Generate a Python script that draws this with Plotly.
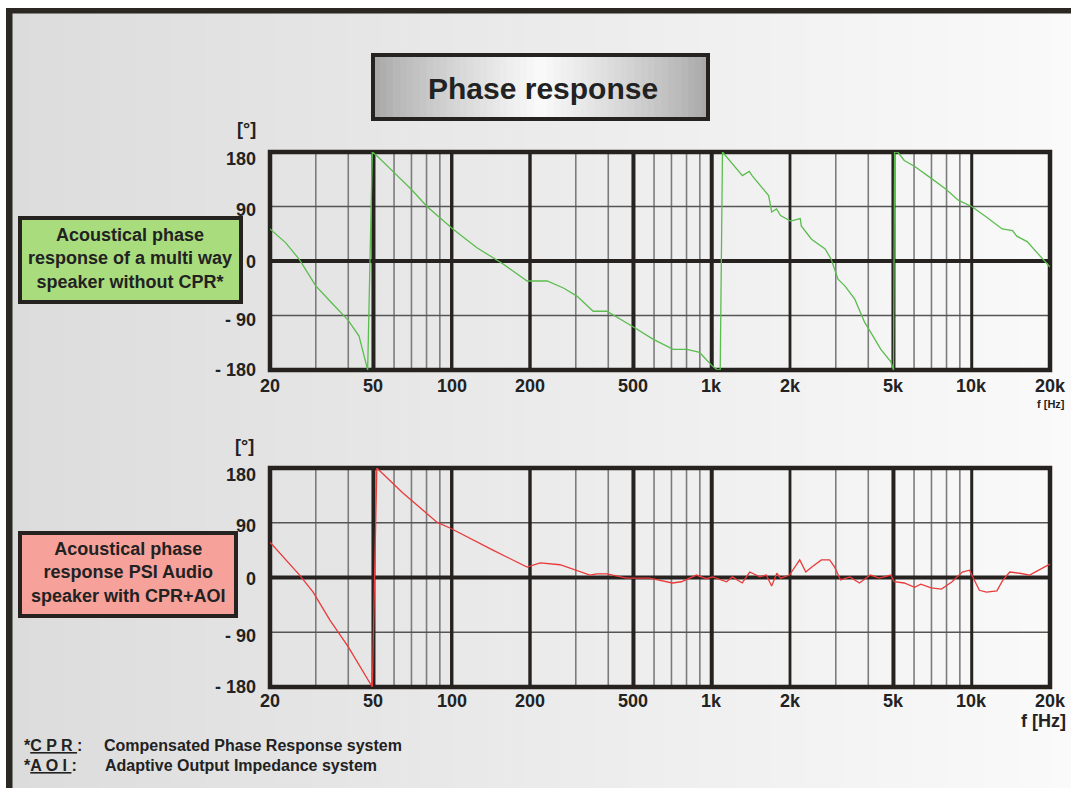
import numpy as np
import plotly.graph_objects as go

# ---------------- data ----------------
green_f = [20, 23, 26, 30, 34, 40, 44, 47.5, 49.5,
           52, 59.4, 70, 80.3, 101, 125, 157.6, 195, 233, 270, 303, 350, 395, 500, 594, 711, 803, 898, 1008, 1054,
           1078, 1100, 1196, 1312, 1394, 1430, 1655, 1700, 1775, 1840, 2010, 2190, 2210, 2420, 2730, 2880, 3060,
           3250, 3550, 3870, 4090, 4470, 4880, 5000,
           5050, 5190, 5500, 6040, 7010, 7940, 8900, 10000, 11350, 13100, 14360, 14900, 16330, 18400, 20000]
green_deg = [53, 30, 2, -41, -66, -98, -124, -180, 180,
             172, 148, 118, 90, 53, 22, -5, -33, -33, -45, -58, -83, -83, -109, -129, -146, -146, -151, -174, -180,
             -180, 180, 161, 141, 148, 141, 108, 81, 86, 75, 66, 70, 58, 36, 20, 3, -30,
             -41, -63, -101, -118, -146, -166, -180,
             180, 180, 166, 156, 136, 119, 100, 90, 73, 53, 50, 41, 32, 7, -10]

red_f = [20, 23, 26, 29.3, 34, 40, 44.5, 49.5, 51.5,
         64.9, 87.7, 98.9, 144, 195, 219, 261, 340, 361, 395, 471, 577, 706, 764, 873, 951,
         1010, 1140, 1200, 1310, 1400, 1530, 1620, 1700, 1780, 1840, 1990, 2180, 2300, 2420, 2640, 2840, 2970,
         3130, 3400, 3700, 4070, 4410, 4880, 5030, 5500, 6030, 6370, 6980, 7650, 8400, 9200, 9800,
         10700, 11400, 12500, 13100, 14000, 15300, 16700, 19400, 20000]
red_deg = [58, 30, 4, -24, -70, -114, -147, -180, 180,
           139, 91, 81, 45, 17, 24, 21, 4, 6, 6, -1, -1, -9, -7, 4, -2,
           1, -7, 1, -9, 9, 1, 4, -14, 7, -1, 4, 29, 9, 17, 29, 29, 17,
           -4, 1, -9, 4, -1, 4, -7, -9, -16, -11, -17, -19, -7, 9, 12,
           -21, -24, -22, -6, 9, 7, 4, 19, 22]

x_tick_vals = [20, 50, 100, 200, 500, 1000, 2000, 5000, 10000, 20000]
x_tick_text = ["20", "50", "100", "200", "500", "1k", "2k", "5k", "10k", "20k"]
y_tick_vals = [180, 90, 0, -90, -180]
y_tick_text = ["180", "90", "0", "- 90", "- 180"]

minor_f = [30, 40, 60, 70, 80, 90, 300, 400, 600, 700, 800, 900,
           3000, 4000, 6000, 7000, 8000, 9000]
major_f = [50, 100, 200, 500, 1000, 2000, 5000, 10000]
major_w = [4, 3.4, 3.4, 4, 4, 2.8, 4, 3]

# ---------------- layout helpers ----------------
W, H = 1071, 788
def px(x):
    return x / W
def py(y):
    return 1 - y / H

FONT = "Liberation Sans, Arial, sans-serif"
DARK = "#25221f"
TXT = "#222222"

fig = go.Figure()

fig.add_trace(go.Scatter(x=green_f, y=green_deg, mode="lines",
                         line=dict(color="#5bbd4e", width=1.3),
                         xaxis="x", yaxis="y", cliponaxis=False, showlegend=False))
fig.add_trace(go.Scatter(x=red_f, y=red_deg, mode="lines",
                         line=dict(color="#ea3a3a", width=1.3),
                         xaxis="x2", yaxis="y2", cliponaxis=False, showlegend=False))

shapes = []
annotations = []

# background gradient
n = 60
x0b, x1b = 12, W
for i in range(n):
    t = i / (n - 1)
    c = int(round(220 + (250 - 220) * t))
    xa = x0b + (x1b - x0b) * i / n
    xb = x0b + (x1b - x0b) * (i + 1) / n + 0.6
    shapes.append(dict(type="rect", xref="paper", yref="paper",
                       x0=px(xa), x1=px(xb), y0=py(H), y1=py(12),
                       fillcolor=f"rgb({c},{c},{c})", line=dict(width=0), layer="below"))
# outer frame borders
shapes.append(dict(type="rect", xref="paper", yref="paper", x0=px(6), x1=px(W), y0=py(13.5), y1=py(8),
                   fillcolor="#2b2722", line=dict(width=0), layer="below"))
shapes.append(dict(type="rect", xref="paper", yref="paper", x0=px(6), x1=px(12.5), y0=py(H), y1=py(8),
                   fillcolor="#2b2722", line=dict(width=0), layer="below"))

# title box with gradient
tb_x0, tb_x1, tb_y0, tb_y1 = 373, 708, 55, 119
m = 50
for i in range(m):
    t = (i + 0.5) / m
    s = 1 - abs(t - 0.5) * 2
    c = int(round(165 + (250 - 165) * s ** 0.8))
    xa = tb_x0 + (tb_x1 - tb_x0) * i / m
    xb = tb_x0 + (tb_x1 - tb_x0) * (i + 1) / m + 0.6
    shapes.append(dict(type="rect", xref="paper", yref="paper",
                       x0=px(xa), x1=px(xb), y0=py(tb_y1), y1=py(tb_y0),
                       fillcolor=f"rgb({c},{c},{c})", line=dict(width=0), layer="below"))
shapes.append(dict(type="rect", xref="paper", yref="paper",
                   x0=px(tb_x0), x1=px(tb_x1), y0=py(tb_y1), y1=py(tb_y0),
                   line=dict(color=DARK, width=4), layer="below"))
annotations.append(dict(text="<b>Phase response</b>", xref="paper", yref="paper",
                        x=px((tb_x0 + tb_x1) / 2 + 2), y=py(88), showarrow=False,
                        xanchor="center", yanchor="middle",
                        font=dict(family=FONT, size=30, color=TXT)))

# plots
plots = [dict(xa="x", ya="y", top=152, bot=370, tick_y=386),
         dict(xa="x2", ya="y2", top=468, bot=687, tick_y=701)]

for p in plots:
    xr, yr = p["xa"], p["ya"]
    for f in minor_f:
        shapes.append(dict(type="line", xref=xr, yref=f"{yr} domain", x0=f, x1=f, y0=0, y1=1,
                           line=dict(color="#7c7c7c", width=1.6), layer="below"))
    for yv in [90, -90]:
        shapes.append(dict(type="line", xref=f"{xr} domain", yref=yr, x0=0, x1=1, y0=yv, y1=yv,
                           line=dict(color="#555555", width=1.6), layer="below"))
    for f, w in zip(major_f, major_w):
        shapes.append(dict(type="line", xref=xr, yref=f"{yr} domain", x0=f, x1=f, y0=0, y1=1,
                           line=dict(color=DARK, width=w), layer="below"))
    shapes.append(dict(type="line", xref=f"{xr} domain", yref=yr, x0=0, x1=1, y0=0, y1=0,
                       line=dict(color=DARK, width=4), layer="below"))
    shapes.append(dict(type="rect", xref=f"{xr} domain", yref=f"{yr} domain", x0=0, x1=1, y0=0, y1=1,
                       line=dict(color=DARK, width=4.5), layer="below"))
    # x tick labels
    for v, t in zip(x_tick_vals, x_tick_text):
        annotations.append(dict(text=f"<b>{t}</b>", xref=xr, yref="paper", x=np.log10(v), y=py(p["tick_y"]),
                                showarrow=False, xanchor="center", yanchor="middle",
                                font=dict(family=FONT, size=18, color=TXT)))
    # y tick labels
    shifts = {180: -7, 90: -3, 0: -1, -90: -4, -180: 0}
    for v, t in zip(y_tick_vals, y_tick_text):
        annotations.append(dict(text=f"<b>{t}</b>", xref="paper", yref=yr, x=px(258), y=v,
                                yshift=shifts[v], showarrow=False, xanchor="right", yanchor="middle",
                                font=dict(family=FONT, size=18, color=TXT)))

# axis unit labels
annotations.append(dict(text="<b>[°]</b>", xref="paper", yref="paper", x=px(246), y=py(129),
                        showarrow=False, xanchor="center", yanchor="middle",
                        font=dict(family=FONT, size=18, color=TXT)))
annotations.append(dict(text="<b>[°]</b>", xref="paper", yref="paper", x=px(244), y=py(446),
                        showarrow=False, xanchor="center", yanchor="middle",
                        font=dict(family=FONT, size=18, color=TXT)))
annotations.append(dict(text="<b>f [Hz]</b>", xref="paper", yref="paper", x=px(1051), y=py(404),
                        showarrow=False, xanchor="center", yanchor="middle",
                        font=dict(family=FONT, size=11, color=TXT)))
annotations.append(dict(text="<b>f [Hz]</b>", xref="paper", yref="paper", x=px(1068), y=py(721),
                        showarrow=False, xanchor="right", yanchor="middle",
                        font=dict(family=FONT, size=18, color=TXT)))

# side label boxes
shapes.append(dict(type="rect", xref="paper", yref="paper", x0=px(20), x1=px(241), y0=py(302), y1=py(218),
                   fillcolor="#a9dc7d", line=dict(color=DARK, width=4), layer="below"))
annotations.append(dict(text="<b>Acoustical phase<br>response of a multi way<br>speaker without CPR*</b>",
                        xref="paper", yref="paper", x=px(130), y=py(259), showarrow=False,
                        xanchor="center", yanchor="middle", align="center",
                        font=dict(family=FONT, size=18, color=TXT)))
shapes.append(dict(type="rect", xref="paper", yref="paper", x0=px(20), x1=px(236), y0=py(616), y1=py(533),
                   fillcolor="#f6a19a", line=dict(color=DARK, width=4), layer="below"))
annotations.append(dict(text="<b>Acoustical phase<br>response PSI Audio<br>speaker with CPR+AOI</b>",
                        xref="paper", yref="paper", x=px(128), y=py(572), showarrow=False,
                        xanchor="center", yanchor="middle", align="center",
                        font=dict(family=FONT, size=18, color=TXT)))

# footnotes
annotations.append(dict(text="<b>*<u>C P R </u>:</b>", xref="paper", yref="paper", x=px(22), y=py(745),
                        showarrow=False, xanchor="left", yanchor="middle",
                        font=dict(family=FONT, size=16, color=TXT)))
annotations.append(dict(text="<b>Compensated Phase Response system</b>", xref="paper", yref="paper",
                        x=px(102), y=py(745), showarrow=False, xanchor="left", yanchor="middle",
                        font=dict(family=FONT, size=16, color=TXT)))
annotations.append(dict(text="<b>*<u>A O I </u>:</b>", xref="paper", yref="paper", x=px(22), y=py(765),
                        showarrow=False, xanchor="left", yanchor="middle",
                        font=dict(family=FONT, size=16, color=TXT)))
annotations.append(dict(text="<b>Adaptive Output Impedance system</b>", xref="paper", yref="paper",
                        x=px(103), y=py(765), showarrow=False, xanchor="left", yanchor="middle",
                        font=dict(family=FONT, size=16, color=TXT)))

axis_common = dict(type="log", range=[np.log10(20), np.log10(20000)], showgrid=False,
                   zeroline=False, showticklabels=False, ticks="", showline=False)
yaxis_common = dict(range=[-180, 180], showgrid=False, zeroline=False, showticklabels=False,
                    ticks="", showline=False)

fig.update_layout(
    width=W, height=H,
    margin=dict(l=0, r=0, t=0, b=0),
    paper_bgcolor="white", plot_bgcolor="rgba(0,0,0,0)",
    xaxis=dict(domain=[px(270), px(1050)], anchor="y", **axis_common),
    yaxis=dict(domain=[py(370), py(152)], anchor="x", **yaxis_common),
    xaxis2=dict(domain=[px(270), px(1050)], anchor="y2", **axis_common),
    yaxis2=dict(domain=[py(687), py(468)], anchor="x2", **yaxis_common),
    shapes=shapes, annotations=annotations, showlegend=False,
)

fig.write_html("out.html",
               config={"displayModeBar": False},
               post_script="document.body.style.margin='0';document.body.style.overflow='hidden';"
                           "document.documentElement.style.overflow='hidden';")
